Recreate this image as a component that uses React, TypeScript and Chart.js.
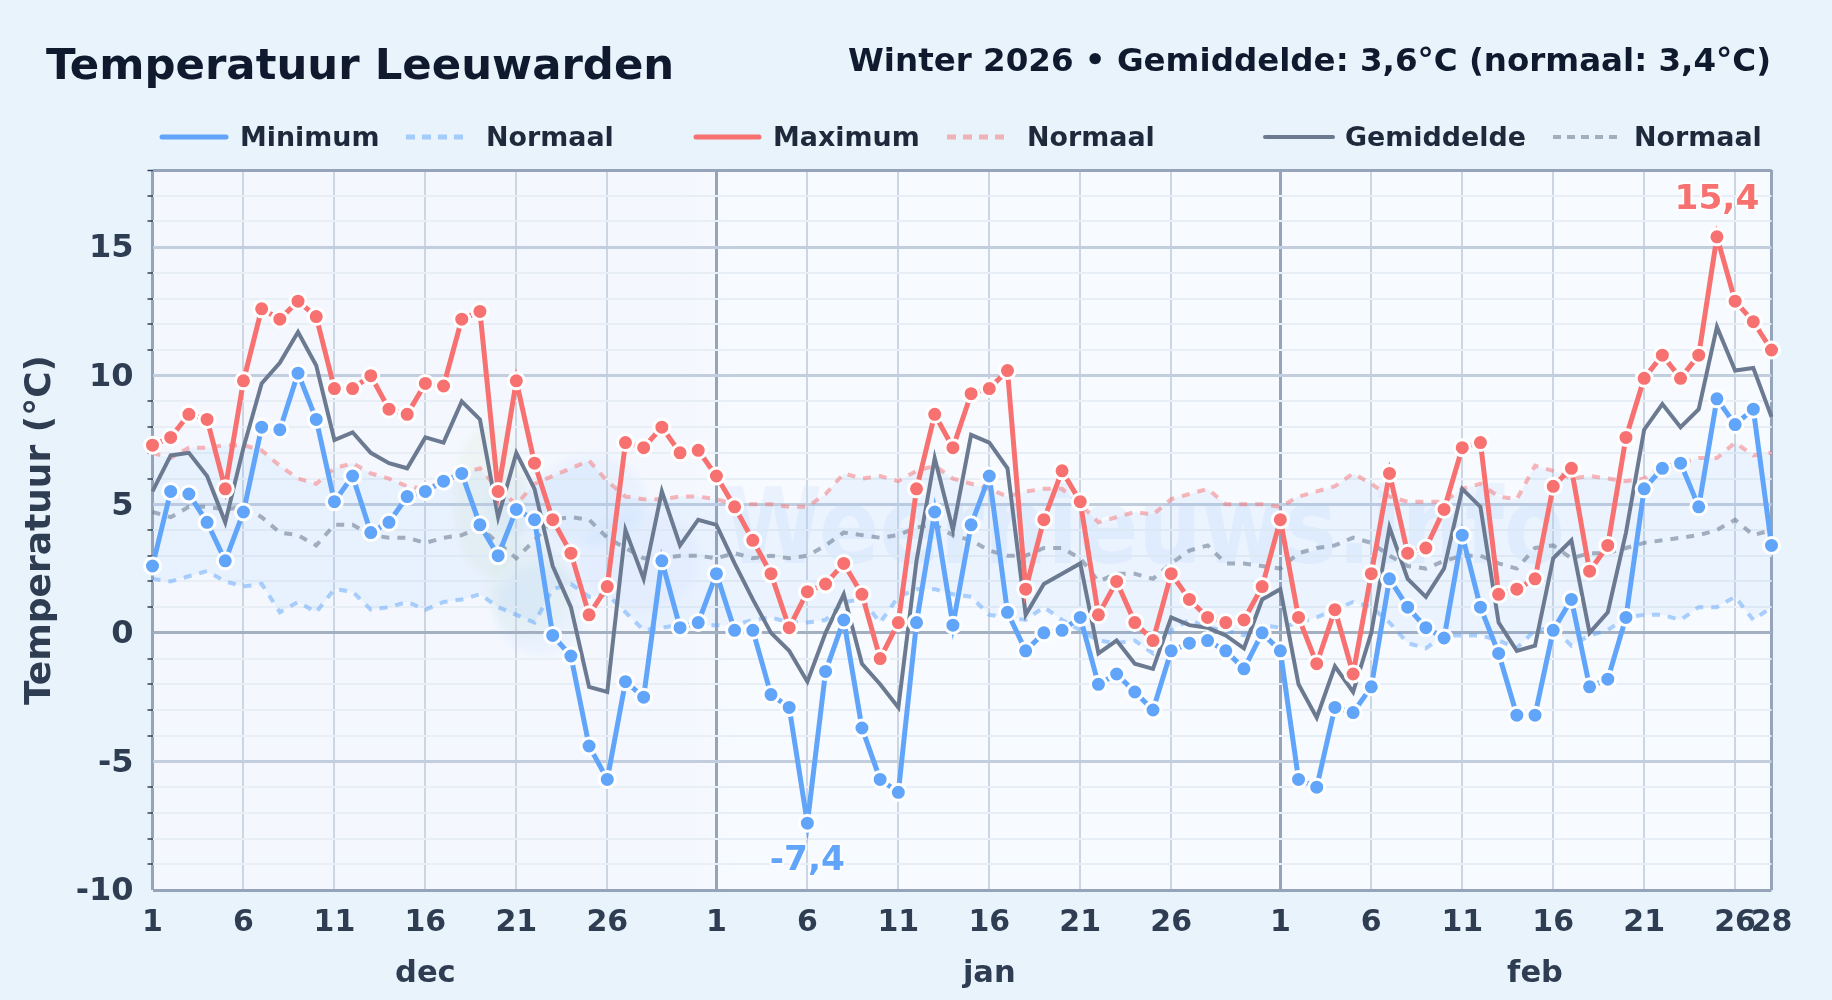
import React, { useEffect, useRef } from "react";
import { Chart, registerables } from "chart.js";

Chart.register(...registerables);

const monthNames = ["dec", "jan", "feb"];
const monthLengths = [31, 31, 28];
const monthMid = [15, 46, 76];

const titleText = "Temperatuur Leeuwarden";
const subtitleText = "Winter 2026 • Gemiddelde: 3,6°C (normaal: 3,4°C)";
const yTitle = "Temperatuur (°C)";
const watermarkText = "Weernieuws.info";

const minValues = [
  2.6, 5.5, 5.4, 4.3, 2.8, 4.7, 8.0, 7.9, 10.1, 8.3, 5.1, 6.1, 3.9, 4.3, 5.3, 5.5, 5.9, 6.2, 4.2, 3.0, 4.8, 4.4, -0.1, -0.9, -4.4, -5.7, -1.9, -2.5, 2.8, 0.2, 0.4,
  2.3, 0.1, 0.1, -2.4, -2.9, -7.4, -1.5, 0.5, -3.7, -5.7, -6.2, 0.4, 4.7, 0.3, 4.2, 6.1, 0.8, -0.7, 0.0, 0.1, 0.6, -2.0, -1.6, -2.3, -3.0, -0.7, -0.4, -0.3, -0.7, -1.4, 0.0,
  -0.7, -5.7, -6.0, -2.9, -3.1, -2.1, 2.1, 1.0, 0.2, -0.2, 3.8, 1.0, -0.8, -3.2, -3.2, 0.1, 1.3, -2.1, -1.8, 0.6, 5.6, 6.4, 6.6, 4.9, 9.1, 8.1, 8.7, 3.4,
];
const maxValues = [
  7.3, 7.6, 8.5, 8.3, 5.6, 9.8, 12.6, 12.2, 12.9, 12.3, 9.5, 9.5, 10.0, 8.7, 8.5, 9.7, 9.6, 12.2, 12.5, 5.5, 9.8, 6.6, 4.4, 3.1, 0.7, 1.8, 7.4, 7.2, 8.0, 7.0, 7.1,
  6.1, 4.9, 3.6, 2.3, 0.2, 1.6, 1.9, 2.7, 1.5, -1.0, 0.4, 5.6, 8.5, 7.2, 9.3, 9.5, 10.2, 1.7, 4.4, 6.3, 5.1, 0.7, 2.0, 0.4, -0.3, 2.3, 1.3, 0.6, 0.4, 0.5, 1.8,
  4.4, 0.6, -1.2, 0.9, -1.6, 2.3, 6.2, 3.1, 3.3, 4.8, 7.2, 7.4, 1.5, 1.7, 2.1, 5.7, 6.4, 2.4, 3.4, 7.6, 9.9, 10.8, 9.9, 10.8, 15.4, 12.9, 12.1, 11.0,
];
const avgValues = [
  5.5, 6.9, 7.0, 6.1, 4.3, 7.2, 9.7, 10.5, 11.7, 10.4, 7.5, 7.8, 7.0, 6.6, 6.4, 7.6, 7.4, 9.0, 8.3, 4.5, 7.0, 5.6, 2.6, 1.0, -2.1, -2.3, 4.0, 2.1, 5.5, 3.4, 4.4,
  4.2, 2.7, 1.3, 0.0, -0.7, -1.9, 0.0, 1.5, -1.2, -2.0, -2.9, 2.8, 6.8, 4.0, 7.7, 7.4, 6.4, 0.7, 1.9, 2.3, 2.7, -0.8, -0.3, -1.2, -1.4, 0.6, 0.3, 0.2, -0.1, -0.6, 1.3,
  1.7, -2.0, -3.3, -1.3, -2.3, 0.0, 4.1, 2.1, 1.4, 2.5, 5.6, 4.9, 0.4, -0.7, -0.5, 2.9, 3.6, 0.0, 0.8, 3.9, 7.9, 8.9, 8.0, 8.7, 11.9, 10.2, 10.3, 8.4,
];
const normalMin = [
  2.1, 2.0, 2.2, 2.4, 2.0, 1.8, 1.9, 0.8, 1.2, 0.8, 1.7, 1.6, 0.9, 1.0, 1.2, 0.9, 1.2, 1.3, 1.5, 1.0, 0.7, 0.4, 1.7, 1.9, 1.4, 1.5, 0.8, 0.1, 0.2, 0.3, 0.3,
  0.3, 0.3, 0.5, 0.6, 0.4, 0.4, 0.5, 1.2, 1.3, 0.4, 1.4, 1.7, 1.7, 1.5, 1.4, 0.7, 0.6, 0.5, 1.0, 0.5, 0.1, -0.3, -0.4, -0.3, -0.8, 0.1, 0.5, 0.2, 0.1, -0.1, 0.3,
  0.2, 0.4, 0.6, 0.9, 1.2, 1.0, 0.4, -0.4, -0.6, -0.1, -0.1, -0.1, -0.3, -0.6, 0.1, 0.2, -0.5, -0.1, 0.1, 0.6, 0.7, 0.7, 0.5, 1.0, 1.0, 1.4, 0.5, 1.0,
];
const normalMax = [
  7.0, 6.8, 7.2, 7.2, 7.3, 7.3, 7.1, 6.5, 6.0, 5.8, 6.4, 6.6, 6.2, 6.0, 5.7, 5.6, 5.9, 6.2, 6.4, 5.6, 5.0, 5.8, 6.1, 6.4, 6.7, 5.9, 5.3, 5.2, 5.2, 5.3, 5.3,
  5.2, 5.0, 5.0, 5.0, 4.9, 4.9, 5.4, 6.2, 6.0, 6.1, 5.9, 6.3, 6.5, 6.0, 5.8, 5.6, 5.3, 5.5, 5.6, 5.6, 5.0, 4.3, 4.5, 4.7, 4.6, 5.2, 5.4, 5.6, 5.0, 5.0, 5.0,
  4.9, 5.3, 5.5, 5.7, 6.2, 5.8, 5.3, 5.1, 5.1, 5.1, 5.6, 5.8, 5.3, 5.2, 6.5, 6.3, 6.0, 6.1, 6.0, 5.9, 6.0, 6.5, 6.6, 6.8, 6.8, 7.4, 6.9, 7.0,
];
const normalAvg = [
  4.7, 4.5, 4.9, 4.9, 4.8, 4.9, 4.5, 3.9, 3.8, 3.4, 4.2, 4.2, 3.8, 3.7, 3.7, 3.5, 3.7, 3.8, 4.1, 3.5, 2.9, 3.6, 4.4, 4.5, 4.4, 3.7, 3.3, 2.9, 2.9, 3.0, 3.0,
  2.9, 3.1, 2.9, 3.0, 2.9, 3.0, 3.4, 3.9, 3.8, 3.7, 3.8, 4.1, 4.2, 3.8, 3.6, 3.2, 3.0, 3.0, 3.3, 3.3, 2.9, 2.0, 2.3, 2.3, 2.1, 2.7, 3.2, 3.4, 2.7, 2.7, 2.6,
  2.5, 3.1, 3.3, 3.4, 3.7, 3.5, 3.0, 2.6, 2.5, 2.8, 3.0, 3.0, 2.7, 2.5, 3.3, 3.4, 2.9, 3.1, 3.1, 3.3, 3.5, 3.6, 3.7, 3.8, 4.0, 4.4, 3.8, 4.0,
];

const dayLabels: string[] = monthLengths.flatMap((n) =>
  Array.from({ length: n }, (_, i) => String(i + 1)),
);
const monthStarts = [0, 31, 62];
const lastIndex = 89;

const BLUE = "#60a5fa";
const RED = "#f87171";
const GRAY = "#6b7a90";
const BLUE_N = "rgba(96,165,250,0.5)";
const RED_N = "rgba(248,113,113,0.5)";
const GRAY_N = "rgba(100,116,139,0.55)";
const INK = "#0f1a2e";
const LABEL = "#2f3d52";
const LEGEND_INK = "#1e293b";
const FONT = "'DejaVu Sans'";

const legendEntries = [
  { label: "Minimum", x0: 162, x1: 226, tx: 240, color: BLUE, width: 5, dash: [] as number[] },
  { label: "Normaal", x0: 406, x1: 465, tx: 486, color: BLUE_N, width: 5, dash: [9, 7] },
  { label: "Maximum", x0: 696, x1: 759, tx: 773, color: RED, width: 5, dash: [] as number[] },
  { label: "Normaal", x0: 947, x1: 1006, tx: 1027, color: RED_N, width: 5, dash: [9, 7] },
  { label: "Gemiddelde", x0: 1265, x1: 1333, tx: 1345, color: GRAY, width: 4, dash: [] as number[] },
  { label: "Normaal", x0: 1553, x1: 1618, tx: 1634, color: GRAY_N, width: 4, dash: [8, 6] },
];

function blob(ctx: CanvasRenderingContext2D, cx: number, cy: number, rx: number, ry: number, fill: string) {
  ctx.fillStyle = fill;
  ctx.beginPath();
  ctx.ellipse(cx, cy, rx, ry, 0, 0, Math.PI * 2);
  ctx.fill();
}

const backdropPlugin = {
  id: "backdrop",
  beforeDraw(chart: any) {
    const { ctx, chartArea: a } = chart;
    ctx.save();
    ctx.fillStyle = "#e9f3fc";
    ctx.fillRect(0, 0, chart.width, chart.height);
    const g = ctx.createLinearGradient(a.left, 0, a.right, 0);
    g.addColorStop(0, "#f4f8fe");
    g.addColorStop(0.33, "#f4f8fe");
    g.addColorStop(0.36, "#f7faff");
    g.addColorStop(1, "#f7faff");
    ctx.fillStyle = g;
    ctx.fillRect(a.left, a.top, a.right - a.left, a.bottom - a.top);
    ctx.filter = "blur(4px)";
    blob(ctx, 490, 500, 36, 75, "rgba(180,215,150,0.10)");
    blob(ctx, 530, 590, 42, 48, "rgba(180,215,150,0.08)");
    blob(ctx, 590, 500, 55, 45, "rgba(59,130,246,0.05)");
    blob(ctx, 540, 610, 45, 45, "rgba(59,130,246,0.05)");
    blob(ctx, 640, 560, 60, 50, "rgba(59,130,246,0.03)");
    blob(ctx, 515, 505, 25, 30, "rgba(59,130,246,0.04)");
    ctx.filter = "none";
    ctx.font = `bold 105px ${FONT}`;
    ctx.fillStyle = "rgba(59,130,246,0.065)";
    ctx.textAlign = "left";
    ctx.textBaseline = "alphabetic";
    ctx.fillText(watermarkText, 724, 563, 841);
    ctx.restore();
  },
};

const textPlugin = {
  id: "texts",
  afterDraw(chart: any) {
    const { ctx, scales } = chart;
    const x = scales.x;
    const y = scales.y;
    ctx.save();
    ctx.textBaseline = "alphabetic";

    ctx.fillStyle = INK;
    ctx.textAlign = "left";
    ctx.font = `bold 43.4px ${FONT}`;
    ctx.fillText(titleText, 46, 79);
    ctx.textAlign = "right";
    ctx.font = `bold 32.5px ${FONT}`;
    ctx.fillText(subtitleText, 1771, 71);

    ctx.textAlign = "left";
    ctx.font = `bold 26.9px ${FONT}`;
    legendEntries.forEach((e) => {
      ctx.save();
      ctx.strokeStyle = e.color;
      ctx.lineWidth = e.width;
      ctx.lineCap = e.dash.length ? "butt" : "round";
      ctx.setLineDash(e.dash);
      ctx.beginPath();
      ctx.moveTo(e.x0, 137);
      ctx.lineTo(e.x1, 137);
      ctx.stroke();
      ctx.restore();
      ctx.fillStyle = LEGEND_INK;
      ctx.fillText(e.label, e.tx, 146);
    });

    ctx.fillStyle = LABEL;
    ctx.textAlign = "center";
    ctx.font = `bold 30.5px ${FONT}`;
    monthNames.forEach((m, i) => ctx.fillText(m, x.getPixelForValue(monthMid[i]), 982));

    const iMax = maxValues.indexOf(Math.max(...maxValues));
    const iMin = minValues.indexOf(Math.min(...minValues));
    ctx.font = `bold 34.4px ${FONT}`;
    ctx.lineJoin = "round";
    ctx.lineWidth = 4;
    ctx.strokeStyle = "rgba(255,255,255,0.85)";
    const fmt = (v: number) => v.toFixed(1).replace(".", ",");
    ctx.fillStyle = RED;
    ctx.strokeText(fmt(maxValues[iMax]), x.getPixelForValue(iMax), y.getPixelForValue(maxValues[iMax]) - 28);
    ctx.fillText(fmt(maxValues[iMax]), x.getPixelForValue(iMax), y.getPixelForValue(maxValues[iMax]) - 28);
    ctx.fillStyle = BLUE;
    ctx.strokeText(fmt(minValues[iMin]), x.getPixelForValue(iMin), y.getPixelForValue(minValues[iMin]) + 47);
    ctx.fillText(fmt(minValues[iMin]), x.getPixelForValue(iMin), y.getPixelForValue(minValues[iMin]) + 47);
    ctx.restore();
  },
};

const shownDay = (i: number) => {
  const start = monthStarts.filter((s) => s <= i).pop() as number;
  const d = i - start + 1;
  return (d - 1) % 5 === 0 && d <= 26 ? true : i === lastIndex;
};

export default function App() {
  const ref = useRef<HTMLCanvasElement | null>(null);
  useEffect(() => {
    if (!ref.current) return;
    const normalLine = (label: string, data: number[], color: string, order: number, extra: object = {}) => ({
      label,
      data,
      borderColor: color,
      borderWidth: 4,
      borderDash: [8, 8],
      pointRadius: 0,
      tension: 0,
      fill: false,
      order,
      ...extra,
    });
    const mainPoints = (color: string) => ({
      pointRadius: 8,
      pointBorderWidth: 3,
      pointBackgroundColor: color,
      pointBorderColor: "#ffffff",
      pointHoverRadius: 8,
    });
    const chart = new Chart(ref.current, {
      type: "line",
      data: {
        labels: dayLabels,
        datasets: [
          { label: "Maximum", data: maxValues, borderColor: RED, borderWidth: 5, tension: 0, fill: false, order: 1, clip: false, ...mainPoints(RED) },
          { label: "Minimum", data: minValues, borderColor: BLUE, borderWidth: 5, tension: 0, fill: false, order: 2, clip: false, ...mainPoints(BLUE) },
          { label: "Gemiddelde", data: avgValues, borderColor: GRAY, borderWidth: 4, tension: 0, pointRadius: 0, fill: false, order: 3 },
          normalLine("Normaal", normalAvg, GRAY_N, 4),
          normalLine("Normaal", normalMax, RED_N, 5),
          normalLine("Normaal", normalMin, BLUE_N, 6, { fill: { target: 4 }, backgroundColor: "rgba(96,165,250,0.08)" }),
        ],
      },
      options: {
        responsive: false,
        animation: false,
        devicePixelRatio: 1,
        layout: { padding: { left: 0, top: 170, right: 60.5, bottom: 0 } },
        plugins: { legend: { display: false }, title: { display: false }, tooltip: { enabled: false } },
        scales: {
          x: {
            type: "category",
            afterFit(s: any) {
              s.height = 110;
            },
            border: { display: false },
            grid: {
              drawTicks: false,
              lineWidth: (c: any) => {
                const i = c.index;
                return monthStarts.includes(i) || i === lastIndex ? 3 : 2;
              },
              color: (c: any) => {
                const i = c.index;
                if (monthStarts.includes(i) || i === lastIndex) return "#95a4b8";
                return shownDay(i) ? "#ccd6e3" : "rgba(0,0,0,0)";
              },
            },
            ticks: {
              autoSkip: false,
              maxRotation: 0,
              minRotation: 0,
              padding: 15,
              color: LABEL,
              font: { family: FONT, size: 30, weight: "bold" },
              callback: (_v: any, i: number) => (shownDay(i) ? dayLabels[i] : ""),
            },
          },
          y: {
            type: "linear",
            min: -10,
            max: 18,
            afterFit(s: any) {
              s.width = 152.5;
            },
            border: { display: false },
            grid: {
              tickLength: 5,
              tickColor: (c: any) => (Number(c.tick.value) % 5 === 0 ? "rgba(0,0,0,0)" : "#334155"),
              tickWidth: 1.5,
              lineWidth: (c: any) => (Number(c.tick.value) % 5 === 0 || c.tick.value === 18 ? 3 : 2),
              color: (c: any) => {
                const v = Number(c.tick.value);
                if (v === 18 || v === -10) return "#95a4b8";
                if (v === 0) return "#a3b0c2";
                return v % 5 === 0 ? "#c2cede" : "#e8eef5";
              },
            },
            ticks: {
              stepSize: 1,
              autoSkip: false,
              padding: 14,
              labelOffset: 2,
              color: LABEL,
              font: { family: FONT, size: 32, weight: "bold" },
              callback: (v: any) => (Number(v) % 5 === 0 ? String(v) : ""),
            },
            title: {
              display: true,
              text: yTitle,
              color: LABEL,
              font: { family: FONT, size: 36, weight: "bold" },
              padding: { top: 19, bottom: 0 },
            },
          },
        },
      },
      plugins: [backdropPlugin, textPlugin],
    } as any);
    return () => chart.destroy();
  }, []);
  return (
    <div style={{ position: "absolute", left: 0, top: 0, width: 1832, height: 1000 }}>
      <canvas ref={ref} width={1832} height={1000} style={{ display: "block", width: 1832, height: 1000 }} />
    </div>
  );
}
